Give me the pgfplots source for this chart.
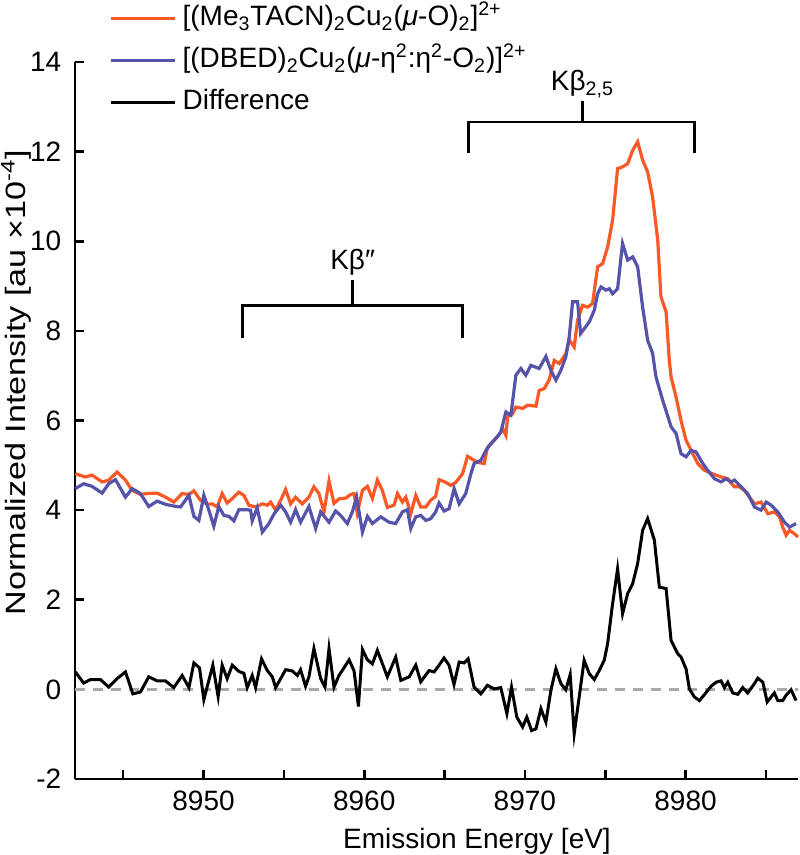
\documentclass[border=0pt]{standalone}
\usepackage{fontspec}
\setmainfont{Liberation Sans}
\usepackage{graphicx}
\usepackage{pgfplots}
\pgfplotsset{compat=1.18}
\definecolor{cOrange}{RGB}{250,88,36}
\definecolor{cBlue}{RGB}{86,84,170}
\definecolor{cDash}{RGB}{170,170,170}
\begin{document}
\fontsize{14pt}{17pt}\selectfont
\begin{tikzpicture}
\begin{axis}[
  name=ax,
  scale only axis, width=361.5pt, height=358.5pt,
  xmin=8942, xmax=8987, ymin=-2, ymax=14,
  clip=false,
  axis x line*=bottom, axis y line*=left,
  axis line style={line width=1.3pt, black},
  tick align=inside,
  major tick length=4.5pt,
  tick style={line width=1.3pt, black},
  xtick={8945,8950,...,8985},
  xticklabels={,8950,,8960,,8970,,8980,},
  ytick={-2,0,...,14},
  /pgf/number format/assume math mode=true,
  yticklabel style={xshift=-2pt},
  xticklabel style={yshift=-1pt},
  every axis x label/.style={at={(axis description cs:0.556,0)}, anchor=base, yshift=-34.5pt},
  every axis y label/.style={at={(axis description cs:-0.069,0.553)}, rotate=90, anchor=base},
  xlabel={Emission Energy [eV]},
  ylabel={\scalebox{1.22}[1]{Normalized Intensity [au ×10\textsuperscript{-4}]}},
  legend style={at={(axis description cs:0.047,1.09)}, anchor=north west, draw=none, fill=none,
    inner sep=0pt, row sep=0pt, nodes={inner sep=3pt, text height=11pt, text depth=4pt}},
  legend cell align=left,
  legend image code/.code={\draw[#1] (0pt,0pt) -- (32pt,0pt);},
]
\addplot[cDash, line width=1.3pt, dash pattern=on 5pt off 4pt, forget plot] coordinates {(8942,0) (8987,0)};
\addplot[cOrange, line width=1.6pt] table {
8942.02 4.81
8942.65 4.74
8943.06 4.78
8943.69 4.63
8944.10 4.67
8944.62 4.85
8945.14 4.67
8945.56 4.44
8946.07 4.35
8946.49 4.37
8947.11 4.38
8947.63 4.29
8948.15 4.18
8948.67 4.37
8949.09 4.35
8949.40 4.43
8949.81 4.22
8950.23 4.13
8950.54 4.14
8950.85 4.07
8951.16 4.37
8951.47 4.16
8951.79 4.26
8952.20 4.40
8952.51 4.33
8952.82 4.11
8953.24 4.07
8953.66 4.14
8953.97 4.11
8954.17 4.18
8954.49 4.00
8954.80 4.22
8955.11 4.46
8955.42 4.14
8955.73 4.29
8956.15 4.14
8956.56 4.29
8956.87 4.52
8957.18 4.37
8957.50 3.96
8957.81 4.65
8958.12 4.15
8958.43 4.25
8958.85 4.27
8959.16 4.35
8959.37 4.37
8959.57 3.94
8959.89 4.44
8960.20 4.53
8960.51 4.26
8960.82 4.67
8961.13 4.44
8961.44 4.06
8961.86 4.11
8962.07 4.37
8962.38 4.18
8962.59 4.29
8962.90 3.92
8963.21 4.33
8963.52 4.07
8963.83 4.07
8964.14 4.22
8964.45 4.31
8964.66 4.68
8965.08 4.62
8965.39 4.55
8965.70 4.62
8966.12 4.81
8966.43 5.20
8966.84 5.11
8967.15 5.06
8967.47 5.04
8967.67 5.40
8967.99 5.52
8968.40 5.68
8968.61 5.82
8968.82 5.67
8968.92 6.08
8969.23 6.15
8969.44 6.30
8969.86 6.27
8970.17 6.34
8970.69 6.32
8970.89 6.67
8971.20 6.71
8971.51 6.90
8971.83 7.34
8972.14 7.27
8972.55 7.49
8972.76 7.80
8973.07 7.64
8973.28 8.24
8973.59 8.57
8973.90 8.53
8974.21 8.61
8974.53 9.43
8974.84 9.50
8975.15 9.87
8975.46 10.47
8975.77 11.62
8976.08 11.66
8976.40 11.73
8976.71 12.03
8977.02 12.22
8977.33 11.81
8977.64 11.55
8977.95 10.99
8978.27 10.02
8978.47 8.76
8978.79 8.42
8978.99 7.34
8979.10 6.97
8979.41 6.52
8979.72 6.00
8980.03 5.56
8980.45 5.26
8980.76 5.04
8981.17 4.89
8981.69 4.81
8982.21 4.74
8982.63 4.70
8983.04 4.52
8983.35 4.52
8983.66 4.44
8983.98 4.29
8984.29 4.14
8984.70 4.18
8985.12 3.92
8985.53 3.96
8985.85 3.85
8986.05 3.62
8986.26 3.44
8986.47 3.55
8986.78 3.47
8987.00 3.40
};
\addlegendentry{[(Me\textsubscript{3}TACN)\textsubscript{2}Cu\textsubscript{2}(\textit{μ}-O)\textsubscript{2}]\textsuperscript{2+}}
\addplot[cBlue, line width=1.6pt] table {
8942.02 4.48
8942.54 4.59
8943.06 4.53
8943.69 4.38
8944.10 4.59
8944.52 4.68
8945.14 4.29
8945.56 4.48
8946.07 4.37
8946.59 4.08
8947.11 4.20
8947.63 4.13
8948.15 4.09
8948.57 4.07
8949.09 4.33
8949.40 3.86
8949.71 3.77
8950.02 4.33
8950.33 4.00
8950.64 3.64
8950.95 4.08
8951.27 3.88
8951.58 3.86
8951.89 3.76
8952.20 4.01
8952.62 4.01
8952.93 4.00
8953.03 3.76
8953.34 4.05
8953.66 3.51
8954.07 3.70
8954.38 3.91
8954.80 4.11
8955.11 3.96
8955.42 3.73
8955.73 4.01
8956.04 3.73
8956.56 4.08
8956.98 3.59
8957.29 3.96
8957.81 3.73
8958.22 3.98
8958.54 3.88
8958.95 3.70
8959.26 3.96
8959.53 4.29
8959.89 3.51
8960.20 3.86
8960.51 3.70
8961.03 3.85
8961.55 3.73
8961.96 3.70
8962.38 3.96
8962.69 4.01
8962.90 3.59
8963.21 3.85
8963.52 3.88
8963.83 3.77
8964.14 3.81
8964.45 3.96
8964.66 4.16
8964.97 3.98
8965.28 4.03
8965.60 4.48
8965.91 4.14
8966.32 4.37
8966.64 4.81
8966.84 5.04
8967.26 5.11
8967.57 5.33
8967.88 5.48
8968.19 5.60
8968.50 5.74
8968.82 6.19
8969.13 6.12
8969.44 7.01
8969.75 7.16
8970.06 7.01
8970.37 7.23
8970.89 7.16
8971.31 7.43
8971.62 7.12
8971.93 6.90
8972.24 7.12
8972.55 7.42
8972.76 7.86
8972.97 8.65
8973.28 8.65
8973.47 7.94
8974.01 8.20
8974.32 8.46
8974.53 8.83
8974.74 8.98
8975.05 8.91
8975.26 8.94
8975.46 8.83
8975.77 8.94
8976.08 9.95
8976.40 9.58
8976.71 9.65
8977.02 9.43
8977.33 8.53
8977.64 7.79
8977.95 7.50
8978.16 6.97
8978.58 6.45
8979.10 5.86
8979.41 5.71
8979.72 5.26
8980.03 5.19
8980.34 5.33
8980.65 5.30
8981.07 5.04
8981.38 4.89
8981.80 4.70
8982.21 4.63
8982.52 4.70
8982.83 4.63
8983.04 4.67
8983.46 4.52
8983.87 4.37
8984.29 4.07
8984.70 4.00
8985.02 4.18
8985.33 4.11
8985.74 3.96
8986.16 3.73
8986.47 3.62
8986.88 3.70
};
\addlegendentry{[(DBED)\textsubscript{2}Cu\textsubscript{2}(\textit{μ}-η\textsuperscript{2}:η\textsuperscript{2}-O\textsubscript{2})]\textsuperscript{2+}}
\addplot[black, line width=1.5pt] table {
8942.02 0.39
8942.54 0.14
8942.96 0.22
8943.58 0.22
8944.10 0.05
8944.62 0.24
8945.14 0.39
8945.60 -0.10
8946.07 -0.06
8946.59 0.28
8947.11 0.19
8947.63 0.19
8948.15 0.04
8948.67 0.31
8949.09 0.04
8949.40 0.59
8949.75 0.48
8950.02 -0.23
8950.33 0.20
8950.58 0.54
8950.91 -0.16
8951.16 0.54
8951.47 0.24
8951.79 0.54
8952.20 0.40
8952.51 0.36
8952.72 0.04
8953.03 0.31
8953.24 0.04
8953.61 0.68
8953.97 0.42
8954.28 0.28
8954.49 0.04
8955.11 0.44
8955.53 0.41
8955.84 0.31
8956.04 0.44
8956.35 0.07
8956.56 0.28
8956.87 0.91
8957.29 0.24
8957.56 0.05
8957.81 0.91
8958.12 0.05
8958.43 0.31
8958.74 0.48
8959.06 0.66
8959.37 0.41
8959.64 -0.38
8959.89 0.89
8960.20 0.66
8960.51 0.57
8960.82 0.87
8961.44 0.28
8961.96 0.72
8962.28 0.20
8962.80 0.28
8963.21 0.54
8963.52 0.17
8964.04 0.42
8964.35 0.39
8964.66 0.54
8964.97 0.70
8965.28 0.54
8965.59 0.11
8965.91 0.61
8966.22 0.59
8966.47 0.68
8966.84 0.05
8967.26 -0.10
8967.67 0.09
8968.09 0.01
8968.50 0.04
8968.88 -0.54
8969.17 0.05
8969.50 -0.62
8969.86 -0.84
8970.12 -0.62
8970.42 -0.92
8970.69 -0.88
8971.00 -0.43
8971.31 -0.73
8971.62 -0.02
8971.93 0.46
8972.24 0.13
8972.55 -0.01
8972.82 0.33
8973.07 -0.99
8973.38 -0.17
8973.69 0.65
8974.01 0.35
8974.32 0.22
8974.63 0.42
8974.94 0.65
8975.15 1.02
8975.46 1.91
8975.77 2.69
8976.08 1.69
8976.40 2.14
8976.71 2.36
8977.02 2.81
8977.33 3.55
8977.64 3.81
8978.06 3.33
8978.37 2.28
8978.79 2.25
8979.10 1.09
8979.51 0.80
8979.72 0.72
8980.03 0.46
8980.24 0.01
8980.55 -0.17
8980.86 -0.25
8981.17 -0.12
8981.59 0.07
8981.90 0.16
8982.21 0.19
8982.42 0.04
8982.63 0.16
8982.94 -0.08
8983.25 -0.11
8983.56 0.04
8983.87 -0.08
8984.29 0.13
8984.50 0.25
8984.81 0.16
8985.08 -0.28
8985.33 -0.17
8985.53 -0.08
8985.74 -0.25
8986.05 -0.25
8986.26 -0.13
8986.57 -0.01
8986.88 -0.25
};
\addlegendentry{Difference}
% brackets
\draw[line width=1.4pt, line join=miter] (axis cs:8952.41,7.83) -- (axis cs:8952.41,8.57) -- (axis cs:8966.12,8.57) -- (axis cs:8966.12,7.83);
\draw[line width=1.4pt] (axis cs:8959.28,8.57) -- (axis cs:8959.28,9.13) node[anchor=south, inner sep=2pt] {Kβ″};
\draw[line width=1.4pt, line join=miter] (axis cs:8966.49,11.97) -- (axis cs:8966.49,12.66) -- (axis cs:8980.55,12.66) -- (axis cs:8980.55,11.97);
\draw[line width=1.4pt] (axis cs:8973.58,12.66) -- (axis cs:8973.58,13.13) node[anchor=south, inner sep=1pt] {Kβ\textsubscript{2,5}};
\end{axis}
\pgfresetboundingbox
\path ([shift={(-37.5pt,-38pt)}]ax.south west) rectangle ([shift={(1pt,31pt)}]ax.north east);
\end{tikzpicture}
\end{document}
